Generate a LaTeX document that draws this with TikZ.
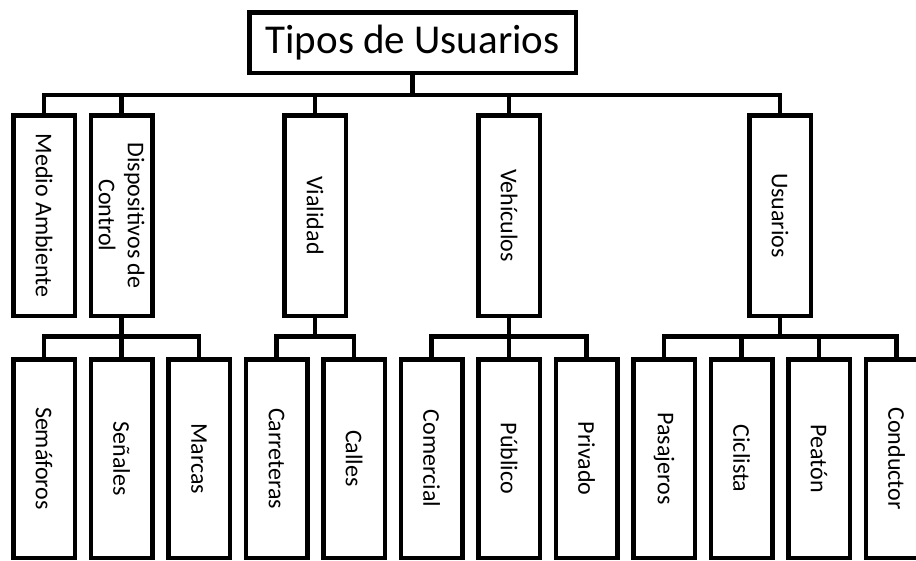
\documentclass[tikz,border=0pt]{standalone}
\usepackage{fontspec}
\setmainfont{Carlito}

\begin{document}
\begin{tikzpicture}[x=1pt,y=1pt,
  box/.style={draw=black,line width=4.5pt,rotate=-90,minimum height=61.5pt,
    inner sep=2pt,align=center,font=\fontsize{24}{29}\selectfont},
  cat/.style={box,minimum width=200.5pt},
  leaf/.style={box,minimum width=198.5pt},
  link/.style={line width=4.5pt}
]
\useasboundingbox (0,0) rectangle (916,-560);
\node[draw=black,line width=4.5pt,minimum width=326.5pt,minimum height=60.5pt,
  font=\fontsize{41}{48}\selectfont] (root) at (412.5,-42.5) {Tipos de Usuarios};
\coordinate (bus) at (0,-95);
\coordinate (subbus) at (0,-336.5);
\node[cat] (medio) at (44,-215.5) {Medio Ambiente};
\node[cat] (disp) at (121.5,-215.5) {Dispositivos de\\Control};
\node[cat] (vial) at (315,-215.5) {Vialidad};
\node[cat] (vehic) at (509,-215.5) {Vehículos};
\node[cat] (usu) at (780,-215.5) {Usuarios};
\foreach \n/\t [count=\i from 0] in {sema/Semáforos,senal/Señales,marca/Marcas,
    carre/Carreteras,calle/Calles,comer/Comercial,publi/Público,priva/Privado,
    pasaj/Pasajeros,cicli/Ciclista,peat/Peatón,cond/Conductor}
  \node[leaf] (\n) at ({44+77.5*\i},-458.5) {\t};
\foreach \c in {medio,disp,vial,vehic,usu}
  \draw[link] (root.south) |- (\c.west |- bus) -- (\c.west);
\foreach \p/\c in {disp/sema,disp/senal,disp/marca,vial/carre,vial/calle,
    vehic/comer,vehic/publi,vehic/priva,usu/pasaj,usu/cicli,usu/peat,usu/cond}
  \draw[link] (\p.east) |- (\c.west |- subbus) -- (\c.west);
\end{tikzpicture}
\end{document}
